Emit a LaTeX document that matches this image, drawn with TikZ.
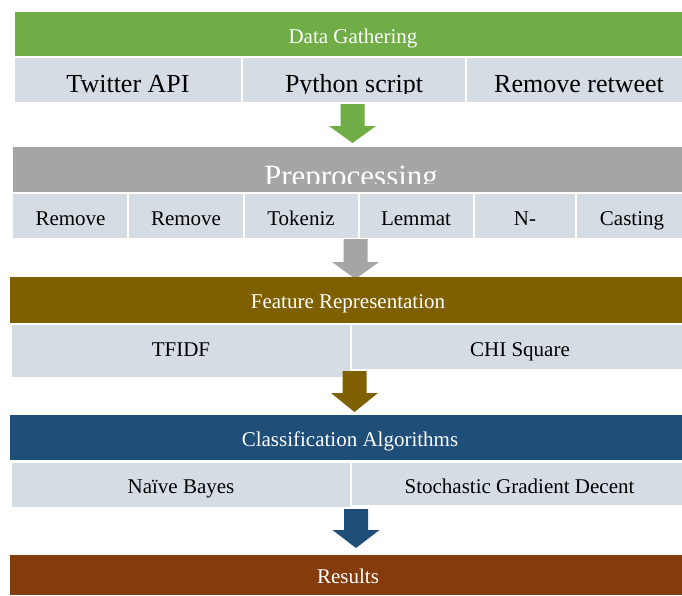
\documentclass[tikz,border=0pt]{standalone}
\usepackage{fontspec}
\setmainfont{Liberation Serif}
\definecolor{gatherGreen}{HTML}{70AD47}
\definecolor{prepGray}{HTML}{A5A5A5}
\definecolor{featGold}{HTML}{7F6000}
\definecolor{classNavy}{HTML}{1F4E79}
\definecolor{resBrown}{HTML}{843C0C}
\definecolor{cellFill}{HTML}{D6DCE4}
\tikzset{
  hdrtext/.style={anchor=base, inner sep=0pt, text=white, font=\fontsize{21}{25}\selectfont},
  celltext/.style={anchor=base, inner sep=0pt, text=black, font=\fontsize{21}{25}\selectfont},
  bigcell/.style={celltext, font=\fontsize{26}{30}\selectfont},
  cellbox/.style={fill=cellFill},
}
% block arrow: #1 colour, centre x, shaft top, head start, tip
\newcommand{\blockarrow}[5]{%
  \fill[#1] (#2-12,#3) -- (#2+12,#3) -- (#2+12,#4) -- (#2+23.5,#4)
     -- (#2,#5) -- (#2-23.5,#4) -- (#2-12,#4) -- cycle;}
\begin{document}
\begin{tikzpicture}[x=1pt,y=-1pt]
\useasboundingbox (0,0) rectangle (682,595);

% ---- Data gathering ----
\fill[gatherGreen] (15,12) rectangle (682,56);
\node[hdrtext] (gather) at (353,43) {Data Gathering};
\fill[cellbox] (15,58) rectangle (241,102);
\fill[cellbox] (243,58) rectangle (465,102);
\fill[cellbox] (467,58) rectangle (682,102);
\begin{scope}
  \clip (15,58) rectangle (682,93);
  \node[bigcell] (twitter) at (128,92) {Twitter API};
  \node[bigcell] (python) at (354,92) {Python script};
  \node[bigcell] (retweet) at (579,92) {Remove retweet};
\end{scope}
\blockarrow{gatherGreen}{352.5}{104}{126}{143}

% ---- Preprocessing ----
\fill[prepGray] (13,147) rectangle (682,192);
\begin{scope}
  \clip (13,147) rectangle (682,183.5);
  \node[hdrtext, font=\fontsize{31}{36}\selectfont] (prep) at (351,186) {Preprocessing};
\end{scope}
\fill[cellbox] (13,194) rectangle (127.3,238);
\fill[cellbox] (129.3,194) rectangle (242.5,238);
\fill[cellbox] (244.5,194) rectangle (357.7,238);
\fill[cellbox] (359.7,194) rectangle (473,238);
\fill[cellbox] (475,194) rectangle (574.5,238);
\fill[cellbox] (576.5,194) rectangle (682,238);
\node[celltext] (rm1) at (70.5,225) {Remove};
\node[celltext] (rm2) at (186,225) {Remove};
\node[celltext] (tok) at (301,225) {Tokeniz};
\node[celltext] (lem) at (416,225) {Lemmat};
\node[celltext] (ngr) at (525,225) {N-};
\node[celltext] (cast) at (632,225) {Casting};
\blockarrow{prepGray}{355.5}{239}{262}{279}

% ---- Feature representation ----
\fill[featGold] (10,277) rectangle (682,323);
\node[hdrtext] (feat) at (348,308) {Feature Representation};
\fill[cellbox] (12,325) rectangle (350,377);
\fill[cellbox] (352,325) rectangle (682,369);
\node[celltext] (tfidf) at (181,356) {TFIDF};
\node[celltext] (chi) at (520,356) {CHI Square};
\blockarrow{featGold}{354.5}{371}{393}{412}

% ---- Classification ----
\fill[classNavy] (10,415) rectangle (682,460);
\node[hdrtext] (cls) at (350,446) {Classification Algorithms};
\fill[cellbox] (12,463) rectangle (350,507);
\fill[cellbox] (352,463) rectangle (682,505);
\node[celltext] (nb) at (181,493) {Naïve Bayes};
\node[celltext] (sgd) at (519.5,493) {Stochastic Gradient Decent};
\blockarrow{classNavy}{356}{509}{530}{548}

% ---- Results ----
\fill[resBrown] (10,555) rectangle (682,595);
\node[hdrtext] (res) at (348,583) {Results};
\end{tikzpicture}
\end{document}
